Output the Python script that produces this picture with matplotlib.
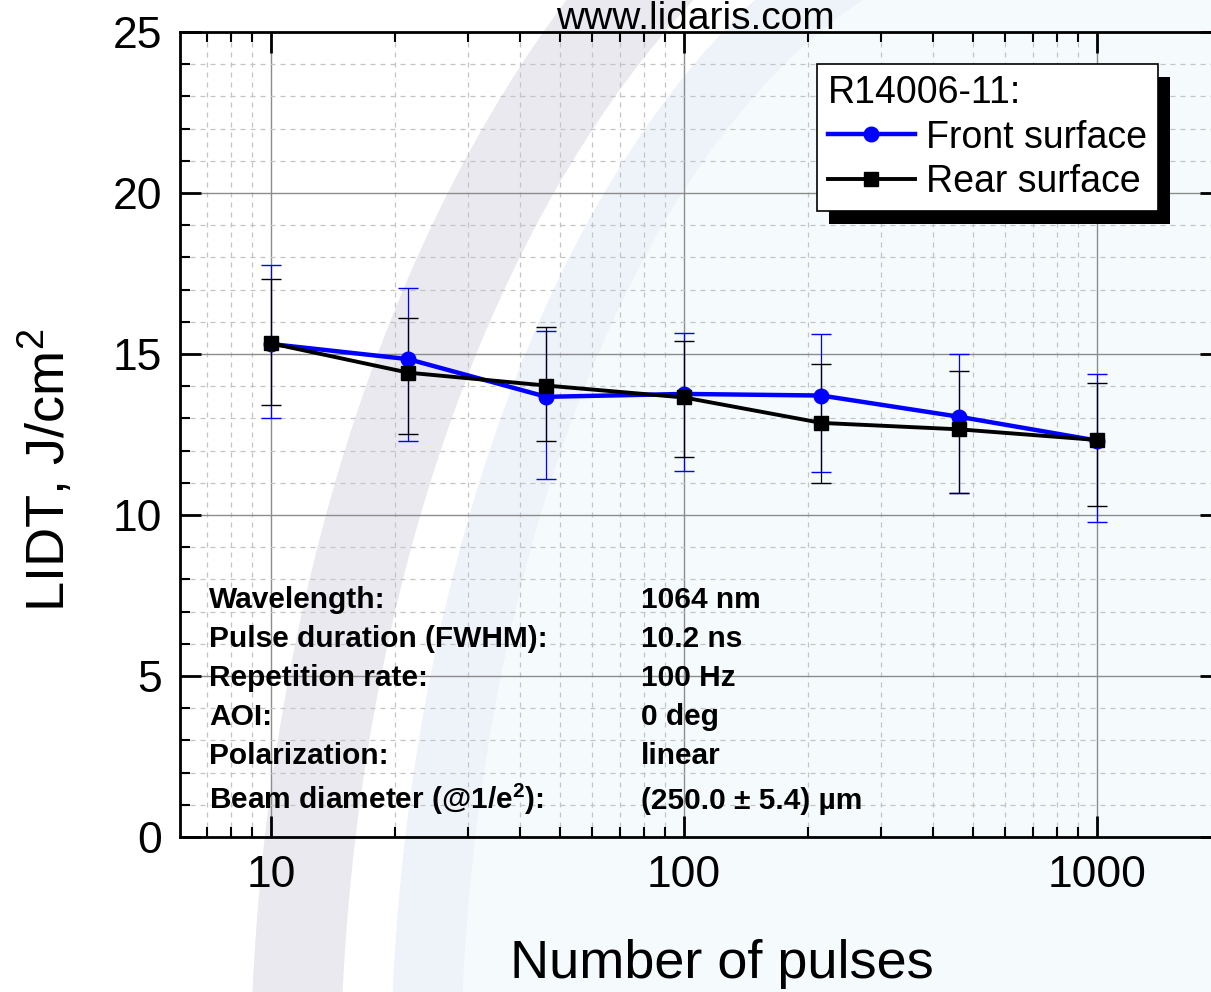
import numpy as np
import matplotlib
matplotlib.use('Agg')
import matplotlib.pyplot as plt
from matplotlib.patches import Ellipse, Rectangle
from matplotlib.transforms import IdentityTransform
from matplotlib.ticker import LogLocator, MultipleLocator, NullFormatter, FuncFormatter

plt.rcParams['font.family'] = ['Liberation Sans', 'DejaVu Sans']
plt.rcParams['mathtext.fontset'] = 'custom'
plt.rcParams['mathtext.rm'] = 'Liberation Sans'
plt.rcParams['mathtext.it'] = 'Liberation Sans:italic'
plt.rcParams['mathtext.bf'] = 'Liberation Sans:bold'

# data
pulses = [10, 21.5, 46.4, 100, 215, 464, 1000]
front = [15.31, 14.84, 13.67, 13.76, 13.71, 13.05, 12.31]
front_hi = [17.76, 17.06, 15.71, 15.66, 15.63, 15.00, 14.38]
front_lo = [13.01, 12.31, 11.13, 11.38, 11.35, 10.67, 9.78]
rear = [15.33, 14.42, 14.02, 13.65, 12.86, 12.66, 12.33]
rear_hi = [17.32, 16.13, 15.83, 15.41, 14.69, 14.48, 14.11]
rear_lo = [13.43, 12.52, 12.31, 11.81, 11.00, 10.69, 10.29]

info_names = ['Wavelength:', 'Pulse duration (FWHM):', 'Repetition rate:', 'AOI:',
              'Polarization:', 'Beam diameter (@1/e$^{\\mathbf{2}}$):']
info_values = ['1064 nm', '10.2 ns', '100 Hz', '0 deg', 'linear', '(250.0 ± 5.4) µm']

W, H = 1211, 992
fig = plt.figure(figsize=(W / 100, H / 100), dpi=100)


def fpos(x, y):
    # pixel position (from top-left) -> figure fraction
    return x / W, 1 - y / H


# faint logo watermark behind everything
for cx, a, b, c in [(1080, 830, 1400, '#e9e9ef'), (1080, 740, 1290, 'white'),
                    (1050, 660, 1230, '#eef3fa'), (1050, 590, 1160, '#f5fbfd')]:
    fig.add_artist(Ellipse(fpos(cx, 1100), 2 * a / W, 2 * b / H,
                           transform=fig.transFigure, fc=c, ec='none', zorder=-10))

ax = fig.add_axes([180 / W, 1 - 837 / H, (1221 - 180) / W, (837 - 32) / H])
ax.set_facecolor('none')
ax.set_xscale('log')
ax.set_xlim(6.02, 1995)
ax.set_ylim(0, 25)

ax.xaxis.set_major_locator(LogLocator(base=10, numticks=10))
ax.xaxis.set_minor_locator(LogLocator(base=10, subs=np.arange(2, 10), numticks=20))
ax.xaxis.set_major_formatter(FuncFormatter(lambda v, p: f'{v:g}'))
ax.xaxis.set_minor_formatter(NullFormatter())
ax.yaxis.set_major_locator(MultipleLocator(5))
ax.yaxis.set_minor_locator(MultipleLocator(1))

ax.tick_params(which='major', direction='in', length=15, width=2, top=True, right=True,
               labelsize=32, pad=13)
ax.tick_params(which='minor', direction='in', length=7, width=1.5, top=True, right=True)
for s in ax.spines.values():
    s.set_linewidth(2)

ax.grid(which='major', color='#8c8c8c', lw=1, ls='-')
ax.grid(which='minor', color='#c4c4c4', lw=0.9, ls=(0, (4, 4)))

f = np.array(front)
r = np.array(rear)
ax.errorbar(pulses, front, yerr=[f - np.array(front_lo), np.array(front_hi) - f], fmt='none',
            ecolor='blue', elinewidth=0.9, capsize=7, capthick=1, zorder=2)
ax.errorbar(pulses, rear, yerr=[r - np.array(rear_lo), np.array(rear_hi) - r], fmt='none',
            ecolor='black', elinewidth=0.9, capsize=7, capthick=1, zorder=2.1)
ax.plot(pulses, front, '-o', color='blue', lw=3.2, ms=10.5, zorder=3, label='Front surface')
ax.plot(pulses, rear, '-s', color='black', lw=2.8, ms=9.5, zorder=3.1, label='Rear surface')

leg = ax.legend(title='R14006-11:', loc='upper left', bbox_to_anchor=fpos(817, 64),
                bbox_transform=fig.transFigure, fontsize=27, title_fontsize=27,
                frameon=True, fancybox=False, framealpha=1, edgecolor='black',
                handlelength=2.3, handletextpad=0.3, labelspacing=0.22,
                borderpad=0.3, borderaxespad=0, alignment='left')
leg.get_frame().set_linewidth(1.2)

# info block
rows_y = [608, 647, 686, 725, 764, 809]
for name, val, y in zip(info_names, info_values, rows_y):
    fig.text(*fpos(209, y), name, fontsize=21.5, fontweight='bold', va='baseline')
    fig.text(*fpos(641, y), val, fontsize=21.5, fontweight='bold', va='baseline')

fig.text(*fpos(695, 29), 'www.lidaris.com', ha='center', va='baseline', fontsize=28)
fig.text(*fpos(722, 978), 'Number of pulses', ha='center', va='baseline', fontsize=39)
fig.text(*fpos(47, 470), 'LIDT, J/cm$^2$', rotation=90, ha='center', va='center', fontsize=39)

# solid black drop shadow under the legend box
fig.canvas.draw()
bb = leg.get_window_extent()
ax.add_patch(Rectangle((bb.x0 + 12, bb.y0 - 13), bb.width, bb.height,
                       transform=IdentityTransform(), fc='black', ec='none',
                       zorder=4.9, clip_on=False))

fig.savefig('out.png', dpi=100)
